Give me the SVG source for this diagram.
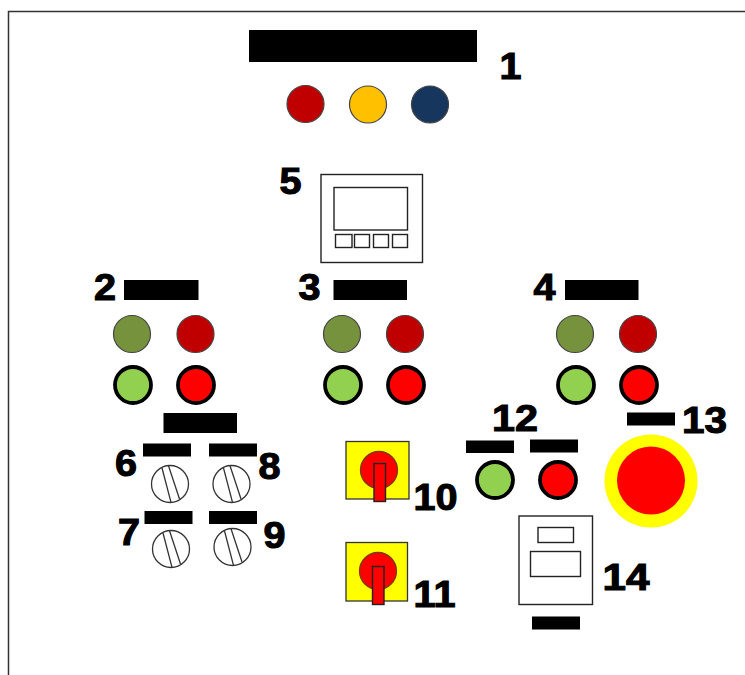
<svg xmlns="http://www.w3.org/2000/svg" width="745" height="675" viewBox="0 0 745 675">
<style>
.bar{fill:#000}
.lbl{font-family:"Liberation Sans",Arial,sans-serif;font-weight:bold;font-size:37px;fill:#000;stroke:#000;stroke-width:1.1px;text-anchor:middle}
.thin{stroke:#444;stroke-width:1.2}
.thick{stroke:#000;stroke-width:3.8}
.olive{fill:#76923c}.dred{fill:#c00000}.lgreen{fill:#92d050}.red{fill:#f00}
.box{fill:#fff;stroke:#222;stroke-width:1.4}
.knob{fill:#fff;stroke:#333;stroke-width:1.3}
.sw{fill:#ff0;stroke:#333;stroke-width:1.3}
.swc{fill:#f00;stroke:#7a3a00;stroke-width:1.3}
.swh{fill:#f00;stroke:#222;stroke-width:1.4}
</style>
<defs>
<g id="knob"><circle class="knob" r="18.5"/><path class="knob" d="M-8 -16L1 18.300M-1.500 -18.200L9.500 15"/></g>
<g id="rotary"><circle class="swc" r="18.500"/></g>
</defs>
<path id="frame" d="M745 11.500H8.500V675" fill="none" stroke="#333" stroke-width="1.500"/>
<g id="connectors"/>
<g id="node-1">
<rect class="bar" x="249" y="30" width="228" height="32"/>
<circle class="thin dred" cx="305.500" cy="104" r="18.500"/>
<circle class="thin" fill="#ffc000" cx="368" cy="104.500" r="18.500"/>
<circle class="thin" fill="#17365d" cx="430" cy="104.500" r="18.500"/>
<text class="lbl" x="510.500" y="78.500" textLength="22" lengthAdjust="spacingAndGlyphs">1</text>
</g>
<g id="node-5">
<rect class="box" x="321" y="174.500" width="101.500" height="88"/>
<rect class="box" x="334" y="187.500" width="73.500" height="42.500"/>
<rect class="box" x="335.500" y="234.500" width="16.500" height="13"/>
<rect class="box" x="354.500" y="234.500" width="15" height="13"/>
<rect class="box" x="373.500" y="234.500" width="15" height="13"/>
<rect class="box" x="392.500" y="234.500" width="15" height="13"/>
<text class="lbl" x="290.500" y="194" textLength="22" lengthAdjust="spacingAndGlyphs">5</text>
</g>
<g id="node-2">
<rect class="bar" x="124" y="280" width="74.500" height="20"/>
<text class="lbl" x="105" y="300" textLength="22" lengthAdjust="spacingAndGlyphs">2</text>
<circle class="thin olive" cx="132" cy="334" r="18.500"/>
<circle class="thin dred" cx="195.500" cy="334" r="18.500"/>
<circle class="thick lgreen" cx="133" cy="385" r="18"/>
<circle class="thick red" cx="196" cy="385" r="18"/>
</g>
<g id="node-3">
<rect class="bar" x="333.500" y="280" width="73.500" height="20"/>
<text class="lbl" x="309.500" y="300" textLength="22" lengthAdjust="spacingAndGlyphs">3</text>
<circle class="thin olive" cx="342" cy="334" r="18.500"/>
<circle class="thin dred" cx="405" cy="334" r="18.500"/>
<circle class="thick lgreen" cx="343" cy="385" r="18"/>
<circle class="thick red" cx="406" cy="385" r="18"/>
</g>
<g id="node-4">
<rect class="bar" x="565" y="280" width="73.500" height="20"/>
<text class="lbl" x="544.500" y="300" textLength="22" lengthAdjust="spacingAndGlyphs">4</text>
<circle class="thin olive" cx="575" cy="334" r="18.500"/>
<circle class="thin dred" cx="638" cy="334" r="18.500"/>
<circle class="thick lgreen" cx="576" cy="385" r="18"/>
<circle class="thick red" cx="639" cy="385" r="18"/>
</g>
<g id="node-group-bar"><rect class="bar" x="163.500" y="413" width="73.500" height="20"/></g>
<g id="node-6">
<rect class="bar" x="143" y="443.500" width="48" height="13"/>
<text class="lbl" x="126" y="476" textLength="22" lengthAdjust="spacingAndGlyphs">6</text>
<use href="#knob" x="170" y="484"/>
</g>
<g id="node-8">
<rect class="bar" x="209" y="443.500" width="48" height="13"/>
<text class="lbl" x="269.500" y="479" textLength="22" lengthAdjust="spacingAndGlyphs">8</text>
<use href="#knob" x="231.500" y="484"/>
</g>
<g id="node-7">
<rect class="bar" x="144.500" y="511" width="48" height="13"/>
<text class="lbl" x="129" y="545" textLength="22" lengthAdjust="spacingAndGlyphs">7</text>
<use href="#knob" x="171" y="549"/>
</g>
<g id="node-9">
<rect class="bar" x="209" y="511" width="48" height="13"/>
<text class="lbl" x="274.500" y="548" textLength="22" lengthAdjust="spacingAndGlyphs">9</text>
<use href="#knob" x="232.500" y="547"/>
</g>
<g id="node-10">
<rect class="sw" x="346" y="441.500" width="63" height="57.500"/>
<use href="#rotary" x="379" y="470"/>
<rect class="swh" x="374" y="463.500" width="11.500" height="38"/>
<text class="lbl" x="435.500" y="510" textLength="44" lengthAdjust="spacingAndGlyphs">10</text>
</g>
<g id="node-11">
<rect class="sw" x="346" y="542.500" width="61.500" height="58.500"/>
<use href="#rotary" x="378" y="571"/>
<rect class="swh" x="372.500" y="566.500" width="11.500" height="38"/>
<text class="lbl" x="434.500" y="607" textLength="42" lengthAdjust="spacingAndGlyphs">11</text>
</g>
<g id="node-12">
<text class="lbl" x="515" y="431" textLength="46" lengthAdjust="spacingAndGlyphs">12</text>
<rect class="bar" x="466" y="440.500" width="48" height="12.500"/>
<rect class="bar" x="530" y="439.500" width="48" height="13"/>
<circle class="thick lgreen" cx="495" cy="480" r="18"/>
<circle class="thick red" cx="558" cy="480" r="18"/>
</g>
<g id="node-13">
<rect class="bar" x="627" y="412.500" width="48" height="13"/>
<text class="lbl" x="704.500" y="433" textLength="45" lengthAdjust="spacingAndGlyphs">13</text>
<circle fill="#ff0" cx="651" cy="481" r="46.500"/>
<circle class="red" cx="651" cy="480.500" r="34"/>
</g>
<g id="node-14">
<rect class="box" x="519" y="516" width="73.500" height="88.500"/>
<rect class="box" x="538" y="527.500" width="35.500" height="15"/>
<rect class="box" x="530.500" y="551.500" width="50" height="25"/>
<rect class="bar" x="532" y="616.500" width="48" height="13"/>
<text class="lbl" x="626" y="590" textLength="47" lengthAdjust="spacingAndGlyphs">14</text>
</g>
</svg>
